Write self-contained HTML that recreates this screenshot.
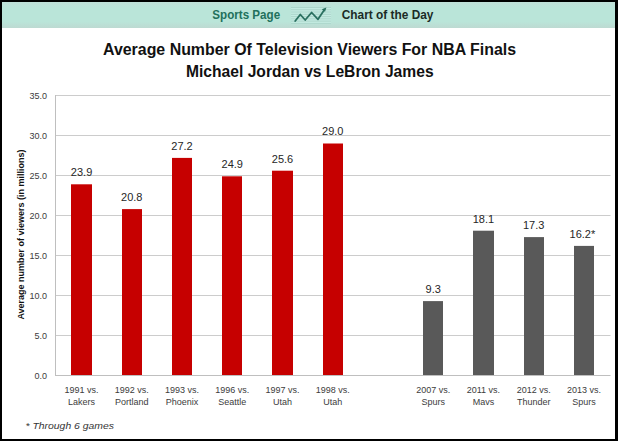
<!DOCTYPE html>
<html><head><meta charset="utf-8"><style>
html,body{margin:0;padding:0;background:#fff;}
body{width:618px;height:441px;position:relative;overflow:hidden;}
svg{position:absolute;left:0;top:0;}
text{font-family:"Liberation Sans",sans-serif;}
.tk{font-size:9px;fill:#3C3C3C;}
.dl{font-size:11px;fill:#262626;}
.ttl{font-size:16px;font-weight:bold;fill:#111;}
.yt{font-size:9px;font-weight:bold;fill:#111;}
.hd{font-size:13px;font-weight:bold;}
.fn{font-size:9.4px;font-style:italic;fill:#363636;}
</style></head><body>
<svg width="618" height="441" viewBox="0 0 618 441">
<rect x="0" y="0" width="618" height="441" fill="#fff"/>
<defs><linearGradient id="hg" x1="0" y1="0" x2="0" y2="1">
<stop offset="0" stop-color="#C0E0D8"/><stop offset="0.25" stop-color="#BAE5D9"/><stop offset="0.75" stop-color="#BAE5D9"/><stop offset="1" stop-color="#BDDAD2"/></linearGradient></defs>
<rect x="2" y="2" width="613" height="26" fill="url(#hg)"/>
<text x="212.3" y="19" class="hd" fill="#22705C" textLength="67.8" lengthAdjust="spacingAndGlyphs">Sports Page</text>
<g>
<rect x="291" y="7" width="40" height="17" fill="#C4EBE2"/>
<rect x="291" y="7.00" width="40" height="1" fill="#ACD6CB"/><rect x="291" y="9.27" width="40" height="1" fill="#ACD6CB"/><rect x="291" y="11.54" width="40" height="1" fill="#ACD6CB"/><rect x="291" y="13.81" width="40" height="1" fill="#ACD6CB"/><rect x="291" y="16.08" width="40" height="1" fill="#ACD6CB"/><rect x="291" y="18.35" width="40" height="1" fill="#ACD6CB"/><rect x="291" y="20.62" width="40" height="1" fill="#ACD6CB"/><rect x="291" y="22.89" width="40" height="1" fill="#ACD6CB"/>
<path d="M295.2 21 L300.3 14.5 L305.2 20 L311.6 12.5 L318 19.3 L324.4 9.8" stroke="#2A7060" stroke-width="1.8" fill="none" stroke-linejoin="round" stroke-linecap="round"/>
<path d="M326.4 7.4 L321.8 9.2 L325 11.8 Z" fill="#2A7060"/>
</g>
<text x="341.8" y="19" class="hd" fill="#1B2B26" textLength="91.6" lengthAdjust="spacingAndGlyphs">Chart of the Day</text>
<text x="103" y="54.7" class="ttl" textLength="413" lengthAdjust="spacingAndGlyphs">Average Number Of Television Viewers For NBA Finals</text>
<text x="186" y="76.7" class="ttl" textLength="247.6" lengthAdjust="spacingAndGlyphs">Michael Jordan vs LeBron James</text>
<rect x="56" y="335.00" width="554.50" height="1" fill="#CCCCCC"/>
<rect x="56" y="295.00" width="554.50" height="1" fill="#CCCCCC"/>
<rect x="56" y="255.00" width="554.50" height="1" fill="#CCCCCC"/>
<rect x="56" y="215.00" width="554.50" height="1" fill="#CCCCCC"/>
<rect x="56" y="175.00" width="554.50" height="1" fill="#CCCCCC"/>
<rect x="56" y="135.00" width="554.50" height="1" fill="#CCCCCC"/>
<rect x="56" y="95.00" width="554.50" height="1" fill="#CCCCCC"/>
<text x="47" y="378.70" text-anchor="end" class="tk">0.0</text>
<text x="47" y="338.70" text-anchor="end" class="tk">5.0</text>
<text x="47" y="298.70" text-anchor="end" class="tk">10.0</text>
<text x="47" y="258.70" text-anchor="end" class="tk">15.0</text>
<text x="47" y="218.70" text-anchor="end" class="tk">20.0</text>
<text x="47" y="178.70" text-anchor="end" class="tk">25.0</text>
<text x="47" y="138.70" text-anchor="end" class="tk">30.0</text>
<text x="47" y="98.70" text-anchor="end" class="tk">35.0</text>
<rect x="71" y="184.30" width="21" height="191.20" fill="#C60000"/>
<text x="81.56" y="176.20" text-anchor="middle" class="dl">23.9</text>
<text x="81.56" y="392.6" text-anchor="middle" class="tk">1991 vs.</text>
<text x="81.56" y="404.6" text-anchor="middle" class="tk">Lakers</text>
<rect x="122" y="209.10" width="20" height="166.40" fill="#C60000"/>
<text x="131.80" y="201.00" text-anchor="middle" class="dl">20.8</text>
<text x="131.80" y="392.6" text-anchor="middle" class="tk">1992 vs.</text>
<text x="131.80" y="404.6" text-anchor="middle" class="tk">Portland</text>
<rect x="172" y="157.90" width="20" height="217.60" fill="#C60000"/>
<text x="182.03" y="149.80" text-anchor="middle" class="dl">27.2</text>
<text x="182.03" y="392.6" text-anchor="middle" class="tk">1993 vs.</text>
<text x="182.03" y="404.6" text-anchor="middle" class="tk">Phoenix</text>
<rect x="222" y="176.30" width="20" height="199.20" fill="#C60000"/>
<text x="232.27" y="168.20" text-anchor="middle" class="dl">24.9</text>
<text x="232.27" y="392.6" text-anchor="middle" class="tk">1996 vs.</text>
<text x="232.27" y="404.6" text-anchor="middle" class="tk">Seattle</text>
<rect x="272" y="170.70" width="21" height="204.80" fill="#C60000"/>
<text x="282.50" y="162.60" text-anchor="middle" class="dl">25.6</text>
<text x="282.50" y="392.6" text-anchor="middle" class="tk">1997 vs.</text>
<text x="282.50" y="404.6" text-anchor="middle" class="tk">Utah</text>
<rect x="323" y="143.50" width="20" height="232.00" fill="#C60000"/>
<text x="332.74" y="135.40" text-anchor="middle" class="dl">29.0</text>
<text x="332.74" y="392.6" text-anchor="middle" class="tk">1998 vs.</text>
<text x="332.74" y="404.6" text-anchor="middle" class="tk">Utah</text>
<rect x="423" y="301.10" width="20" height="74.40" fill="#595959"/>
<text x="433.21" y="293.00" text-anchor="middle" class="dl">9.3</text>
<text x="433.21" y="392.6" text-anchor="middle" class="tk">2007 vs.</text>
<text x="433.21" y="404.6" text-anchor="middle" class="tk">Spurs</text>
<rect x="473" y="230.70" width="21" height="144.80" fill="#595959"/>
<text x="483.45" y="222.60" text-anchor="middle" class="dl">18.1</text>
<text x="483.45" y="392.6" text-anchor="middle" class="tk">2011 vs.</text>
<text x="483.45" y="404.6" text-anchor="middle" class="tk">Mavs</text>
<rect x="524" y="237.10" width="20" height="138.40" fill="#595959"/>
<text x="533.68" y="229.00" text-anchor="middle" class="dl">17.3</text>
<text x="533.68" y="392.6" text-anchor="middle" class="tk">2012 vs.</text>
<text x="533.68" y="404.6" text-anchor="middle" class="tk">Thunder</text>
<rect x="574" y="245.90" width="20" height="129.60" fill="#595959"/>
<text x="582.42" y="237.80" text-anchor="middle" class="dl">16.2*</text>
<text x="583.92" y="392.6" text-anchor="middle" class="tk">2013 vs.</text>
<text x="583.92" y="404.6" text-anchor="middle" class="tk">Spurs</text>
<rect x="55" y="95" width="1" height="281" fill="#BFBFBF"/>
<rect x="55" y="375" width="555.50" height="1" fill="#BFBFBF"/>
<text transform="translate(24,234.5) rotate(-90)" x="0" y="0" text-anchor="middle" class="yt">Average number of viewers (in millions)</text>
<text x="25.5" y="428.7" class="fn" textLength="88.5" lengthAdjust="spacingAndGlyphs">* Through 6 games</text>
<rect x="0" y="0" width="618" height="2" fill="#000"/>
<rect x="0" y="0" width="2" height="441" fill="#000"/>
<rect x="615" y="0" width="3" height="441" fill="#000"/>
<rect x="0" y="439" width="618" height="2" fill="#000"/>
</svg>
</body></html>
